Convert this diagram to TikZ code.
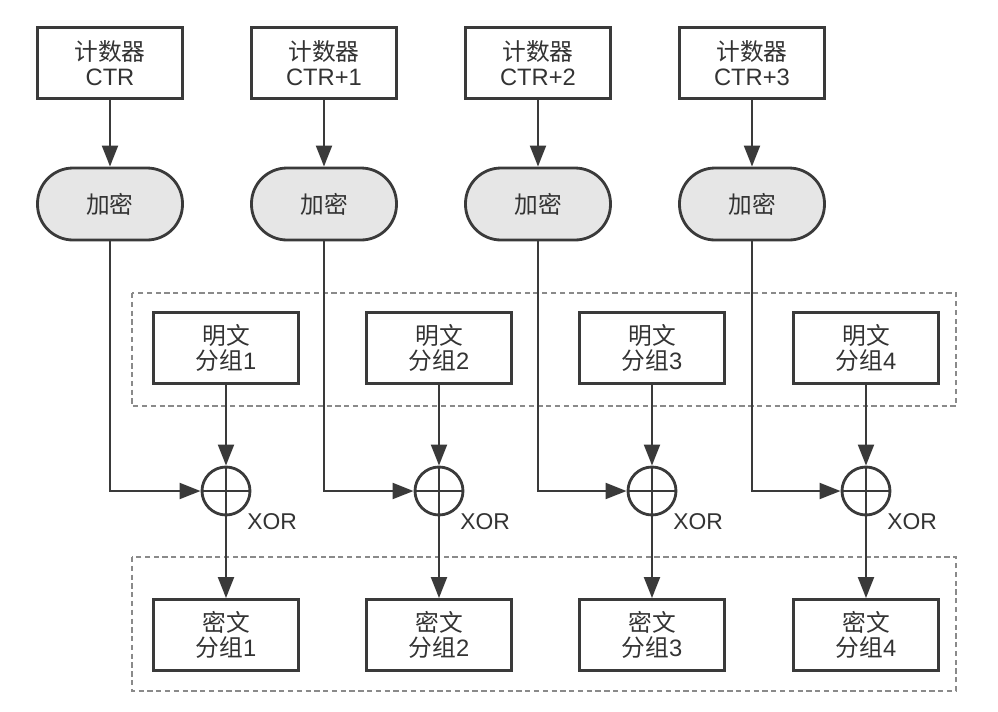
\documentclass[tikz,border=0pt]{standalone}
\usepackage{fontspec}
\setmainfont{Liberation Sans}
\newfontfamily\cjk{Noto Sans CJK SC}
\usetikzlibrary{arrows.meta, positioning}
\definecolor{cLine}{HTML}{3A3A3A}
\definecolor{cText}{HTML}{333333}
\definecolor{cFill}{HTML}{E6E6E6}
\definecolor{cDash}{HTML}{8A8A8A}
\newcommand{\zh}[1]{{\cjk #1}}

\begin{document}
\begin{tikzpicture}[
    % ---------------------------------------------------------
    % STYLES
    % ---------------------------------------------------------
    block/.style={
        rectangle,
        draw=cLine,
        fill=white,
        line width=1.6pt,
        minimum width=2.9cm,
        minimum height=1.42cm,
        inner sep=0pt,
        align=center,
        text=cText,
        font=\fontsize{13.5}{14.5}\selectfont
    },
    cipher/.style={
        block,
        fill=cFill,
        rounded corners=0.71cm,
        minimum height=1.44cm
    },
    xor/.style={
        circle,
        draw=cLine,
        fill=white,
        line width=1.6pt,
        minimum size=0.96cm,
        inner sep=0pt,
        path picture={
            \draw[cLine, line width=1.6pt]
                (path picture bounding box.north) -- (path picture bounding box.south)
                (path picture bounding box.west) -- (path picture bounding box.east);
        }
    },
    flow/.style={
        draw=cLine,
        line width=1.6pt,
        -{Triangle[length=12pt, width=9pt]}
    },
    group/.style={
        draw=cDash,
        line width=0.6pt,
        dash pattern=on 3pt off 2pt
    },
    xor label/.style={
        inner sep=0pt,
        text=cText,
        font=\fontsize{13}{14}\selectfont
    }
]
\useasboundingbox (0,0) rectangle (19.96,-14.22);

% ---------------------------------------------------------
% 1. DASHED GROUPS (plaintext / ciphertext)
% ---------------------------------------------------------
\draw[group] (2.64,-5.86) rectangle (19.12,-8.12);
\draw[group] (2.64,-11.14) rectangle (19.12,-13.82);

% ---------------------------------------------------------
% 2. COUNTERS
% ---------------------------------------------------------
\node[block] (ctr1) at (2.2, -1.26) {\zh{计数器}\\CTR};
\node[block] (ctr2) at (6.48, -1.26) {\zh{计数器}\\CTR+1};
\node[block] (ctr3) at (10.76, -1.26) {\zh{计数器}\\CTR+2};
\node[block] (ctr4) at (15.04, -1.26) {\zh{计数器}\\CTR+3};

% ---------------------------------------------------------
% 3. ENCRYPTION
% ---------------------------------------------------------
\node[cipher] (enc1) at (2.2, -4.08) {\zh{加密}};
\node[cipher] (enc2) at (6.48, -4.08) {\zh{加密}};
\node[cipher] (enc3) at (10.76, -4.08) {\zh{加密}};
\node[cipher] (enc4) at (15.04, -4.08) {\zh{加密}};

% ---------------------------------------------------------
% 4. PLAINTEXT BLOCKS, XOR, CIPHERTEXT BLOCKS
% ---------------------------------------------------------
\node[block] (pt1) at (4.52, -6.96) {\zh{明文}\\\zh{分组}1};
\node[block] (pt2) at (8.78, -6.96) {\zh{明文}\\\zh{分组}2};
\node[block] (pt3) at (13.04, -6.96) {\zh{明文}\\\zh{分组}3};
\node[block] (pt4) at (17.32, -6.96) {\zh{明文}\\\zh{分组}4};

\node[xor] (x1) at (4.52, -9.82) {};
\node[xor] (x2) at (8.78, -9.82) {};
\node[xor] (x3) at (13.04, -9.82) {};
\node[xor] (x4) at (17.32, -9.82) {};

\node[xor label, below right=0.08cm and 0.06cm of x1.south east] (xl1) {XOR};
\node[xor label, below right=0.08cm and 0.06cm of x2.south east] (xl2) {XOR};
\node[xor label, below right=0.08cm and 0.06cm of x3.south east] (xl3) {XOR};
\node[xor label, below right=0.08cm and 0.06cm of x4.south east] (xl4) {XOR};

\node[block] (ct1) at (4.52, -12.7) {\zh{密文}\\\zh{分组}1};
\node[block] (ct2) at (8.78, -12.7) {\zh{密文}\\\zh{分组}2};
\node[block] (ct3) at (13.04, -12.7) {\zh{密文}\\\zh{分组}3};
\node[block] (ct4) at (17.32, -12.7) {\zh{密文}\\\zh{分组}4};

% ---------------------------------------------------------
% 5. CONNECTORS
% ---------------------------------------------------------
\draw[flow] (ctr1) -- (enc1);
\draw[flow] (ctr2) -- (enc2);
\draw[flow] (ctr3) -- (enc3);
\draw[flow] (ctr4) -- (enc4);

\draw[flow] (enc1.south) |- (x1.west);
\draw[flow] (enc2.south) |- (x2.west);
\draw[flow] (enc3.south) |- (x3.west);
\draw[flow] (enc4.south) |- (x4.west);

\draw[flow] (pt1) -- (x1);
\draw[flow] (pt2) -- (x2);
\draw[flow] (pt3) -- (x3);
\draw[flow] (pt4) -- (x4);

\draw[flow] (x1) -- (ct1);
\draw[flow] (x2) -- (ct2);
\draw[flow] (x3) -- (ct3);
\draw[flow] (x4) -- (ct4);

\end{tikzpicture}
\end{document}
